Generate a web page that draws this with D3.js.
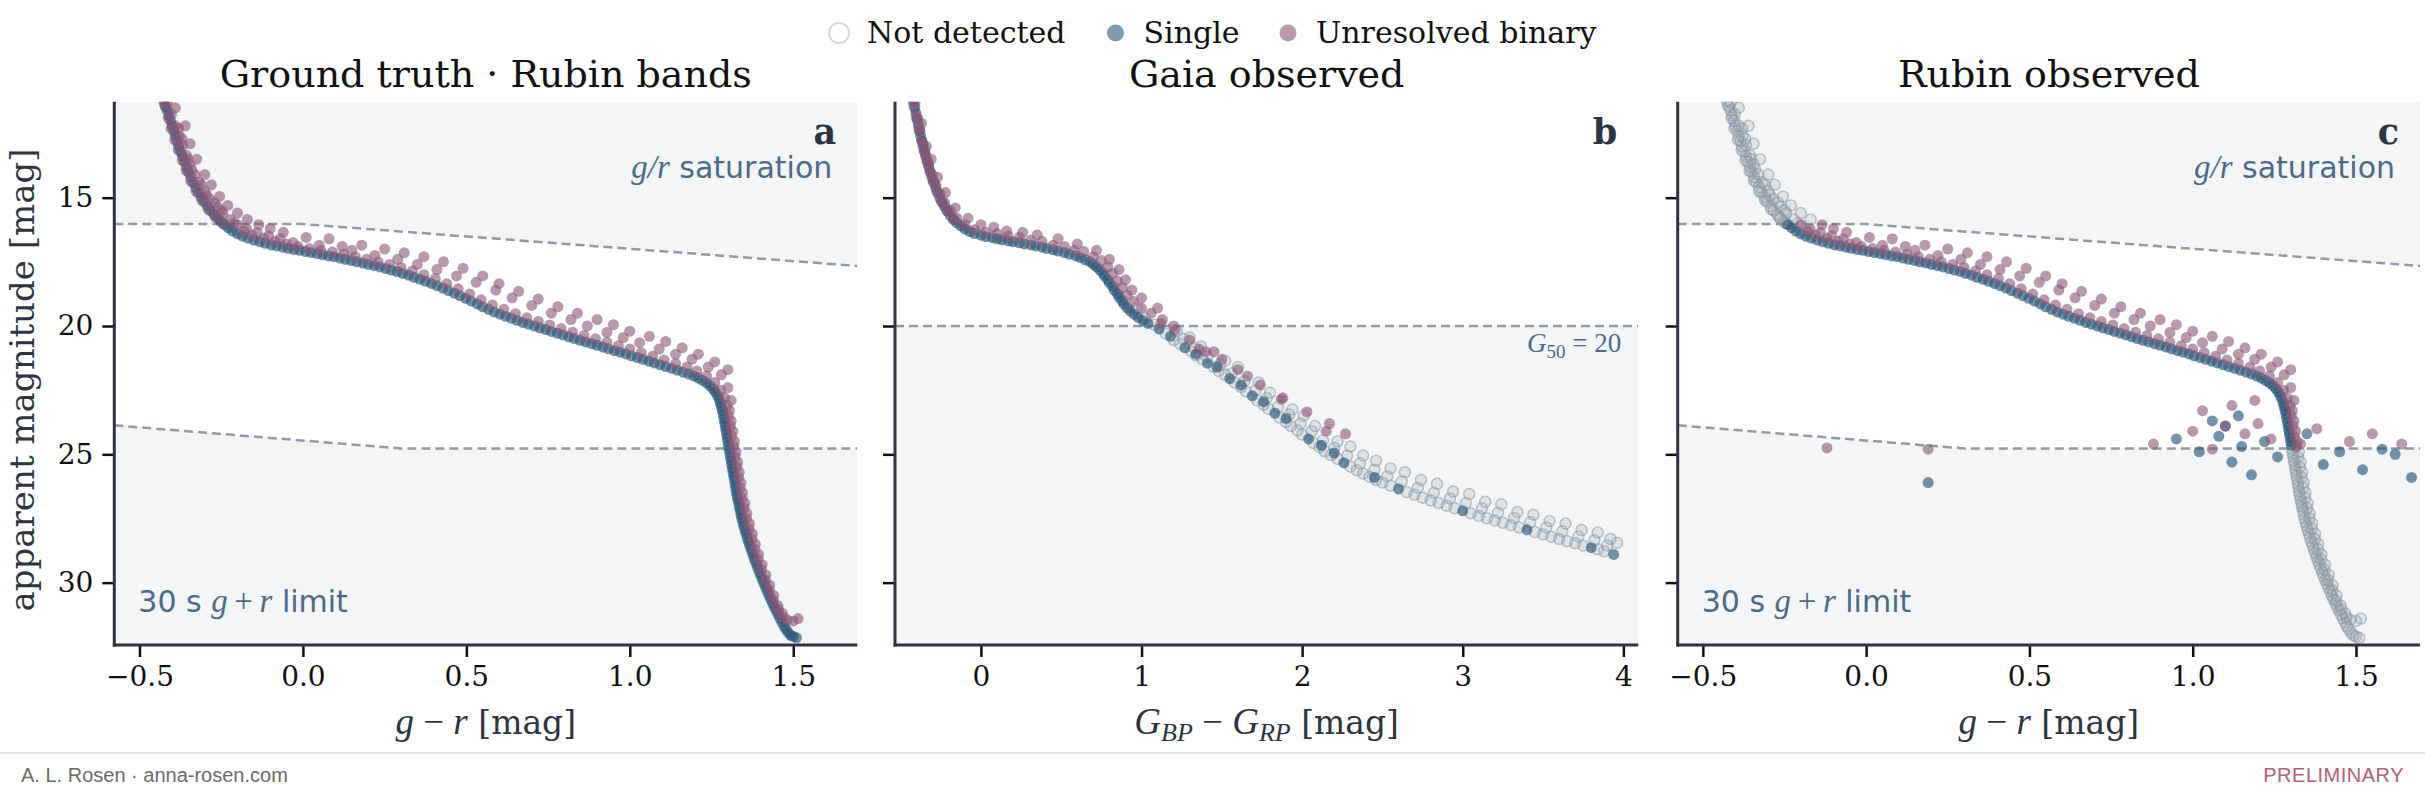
<!DOCTYPE html>
<html>
<head>
<meta charset="utf-8">
<title>CMD panels</title>
<style>
  body { margin: 0; background: #fff; }
</style>
</head>
<body>
<svg id="fig" width="2425" height="794" font-family="DejaVu Serif"></svg>
<script src="https://d3js.org/d3.v7.min.js"></script>
<script>
// ---- data ----
var panelTitles = ["Ground truth \u00b7 Rubin bands", "Gaia observed", "Rubin observed"];
var panelLetters = ["a", "b", "c"];
var legendLabels = ["Not detected", "Single", "Unresolved binary"];
var magTicks = [15, 20, 25, 30];
var grTicks = [-0.5, 0.0, 0.5, 1.0, 1.5];
var bpTicks = [0, 1, 2, 3, 4];

// saturation and depth limits (g-r, mag)
var satX = [-0.577, 0.0, 1.696], satY = [16.03, 16.03, 17.66];
var limX = [-0.577, 0.30, 1.696], limY = [23.87, 24.77, 24.77];
var gaiaG50 = 20;

// ground truth, Rubin g-r vs mag
var truthSingle = [[-0.425,11.25],[-0.42,11.45],[-0.415,11.6],[-0.41,11.8],[-0.405,12.0],[-0.4,12.2],[-0.395,12.4],[-0.39,12.6],[-0.385,12.8],[-0.38,13.0],[-0.374,13.2],[-0.368,13.4],[-0.362,13.6],[-0.356,13.8],[-0.35,14.0],[-0.343,14.2],[-0.336,14.4],[-0.328,14.6],[-0.32,14.8],[-0.311,14.98],[-0.302,15.15],[-0.292,15.33],[-0.283,15.5],[-0.272,15.65],[-0.262,15.8],[-0.251,15.93],[-0.24,16.05],[-0.228,16.18],[-0.215,16.3],[-0.2,16.41],[-0.185,16.5],[-0.168,16.58],[-0.15,16.65],[-0.132,16.72],[-0.115,16.78],[-0.097,16.84],[-0.08,16.88],[-0.062,16.93],[-0.045,16.97],[-0.027,17.02],[-0.01,17.05],[0.008,17.1],[0.025,17.14],[0.043,17.18],[0.06,17.22],[0.078,17.27],[0.095,17.3],[0.113,17.35],[0.13,17.4],[0.148,17.45],[0.165,17.5],[0.183,17.55],[0.2,17.6],[0.218,17.65],[0.235,17.7],[0.253,17.76],[0.27,17.82],[0.288,17.88],[0.305,17.95],[0.323,18.02],[0.34,18.1],[0.358,18.18],[0.375,18.26],[0.393,18.34],[0.41,18.43],[0.428,18.52],[0.445,18.62],[0.463,18.72],[0.48,18.82],[0.498,18.92],[0.515,19.03],[0.533,19.14],[0.55,19.25],[0.568,19.35],[0.585,19.45],[0.603,19.54],[0.62,19.62],[0.638,19.7],[0.655,19.78],[0.673,19.86],[0.69,19.93],[0.708,20.0],[0.725,20.07],[0.743,20.14],[0.76,20.21],[0.778,20.28],[0.795,20.35],[0.813,20.42],[0.83,20.49],[0.848,20.56],[0.865,20.62],[0.883,20.69],[0.9,20.75],[0.918,20.82],[0.935,20.89],[0.953,20.96],[0.97,21.02],[0.988,21.09],[1.005,21.16],[1.023,21.23],[1.04,21.3],[1.058,21.37],[1.075,21.44],[1.093,21.51],[1.11,21.58],[1.128,21.65],[1.145,21.72],[1.163,21.8],[1.18,21.87],[1.196,21.95],[1.21,22.03],[1.223,22.12],[1.235,22.22],[1.246,22.33],[1.255,22.45],[1.262,22.58],[1.268,22.7],[1.273,22.85],[1.277,23.0],[1.28,23.15],[1.283,23.3],[1.286,23.45],[1.288,23.6],[1.29,23.75],[1.292,23.9],[1.294,24.05],[1.296,24.2],[1.298,24.35],[1.3,24.5],[1.302,24.65],[1.304,24.8],[1.306,24.95],[1.308,25.1],[1.31,25.25],[1.312,25.4],[1.314,25.55],[1.316,25.7],[1.318,25.85],[1.32,26.0],[1.322,26.15],[1.324,26.3],[1.326,26.45],[1.328,26.6],[1.33,26.75],[1.333,26.9],[1.335,27.05],[1.338,27.2],[1.34,27.35],[1.343,27.5],[1.346,27.65],[1.349,27.8],[1.352,27.95],[1.356,28.1],[1.359,28.25],[1.363,28.4],[1.367,28.55],[1.371,28.7],[1.375,28.85],[1.379,29.0],[1.383,29.15],[1.388,29.3],[1.392,29.45],[1.397,29.6],[1.401,29.75],[1.406,29.9],[1.411,30.05],[1.416,30.2],[1.421,30.35],[1.426,30.5],[1.431,30.65],[1.437,30.8],[1.442,30.95],[1.448,31.1],[1.454,31.25],[1.46,31.4],[1.466,31.55],[1.472,31.7],[1.478,31.82],[1.485,31.95],[1.492,32.05],[1.5,32.1],[1.51,32.15]];
var truthBinary = [[-0.415,11.3],[-0.402,11.75],[-0.39,12.2],[-0.378,12.6],[-0.368,12.95],[-0.356,13.35],[-0.345,13.7],[-0.33,14.1],[-0.318,14.4],[-0.3,14.75],[-0.285,15.05],[-0.262,15.35],[-0.245,15.6],[-0.222,15.85],[-0.2,16.05],[-0.172,16.22],[-0.14,16.36],[-0.105,16.48],[-0.07,16.6],[-0.36,12.2],[-0.345,12.9],[-0.325,13.5],[-0.3,14.1],[-0.28,14.5],[-0.255,14.95],[-0.23,15.3],[-0.2,15.6],[-0.17,15.85],[-0.135,16.05],[-0.1,16.2],[-0.06,16.35],[-0.03,16.75],[0.01,16.55],[0.05,16.85],[0.08,16.6],[0.12,16.9],[0.15,17.05],[0.18,16.85],[0.22,17.25],[0.25,17.0],[0.29,17.4],[0.31,17.15],[0.35,17.6],[0.37,17.3],[0.41,17.8],[0.43,17.5],[0.47,18.05],[0.49,17.75],[0.53,18.3],[0.55,18.05],[0.59,18.6],[0.6,18.35],[0.64,18.9],[0.66,18.65],[0.7,19.2],[0.72,18.95],[0.76,19.5],[0.78,19.25],[0.82,19.75],[0.84,19.5],[0.87,20.0],[0.9,19.75],[0.93,20.25],[0.95,19.95],[0.98,20.45],[1.0,20.2],[1.03,20.65],[1.06,20.4],[1.09,20.9],[1.11,20.6],[1.14,21.1],[1.16,20.85],[1.19,21.3],[1.21,21.1],[1.24,21.6],[1.26,21.4],[1.28,21.9],[1.3,21.7],[1.3,22.4],[1.31,22.9],[1.305,23.3],[1.31,23.7],[1.315,24.1],[1.32,24.5],[1.325,24.9],[1.33,25.3],[1.335,25.7],[1.34,26.1],[1.345,26.5],[1.352,26.9],[1.358,27.3],[1.366,27.7],[1.375,28.1],[1.384,28.5],[1.394,28.9],[1.405,29.3],[1.416,29.7],[1.428,30.1],[1.44,30.5],[1.453,30.9],[1.467,31.2],[1.482,31.45],[1.5,31.5],[1.515,31.4],[-0.39,11.5],[-0.38,12.3],[-0.37,12.7],[-0.352,13.5],[-0.34,13.9],[-0.31,14.5],[-0.295,14.9],[-0.27,15.2],[-0.25,15.5],[-0.21,16.0],[-0.18,16.3],[-0.155,16.45],[-0.12,16.58],[-0.085,16.7],[-0.05,16.8],[-0.015,16.9],[0.02,16.98],[0.055,17.05],[0.09,17.12],[0.125,17.2],[0.16,17.3],[0.195,17.4],[0.23,17.5],[0.265,17.6],[0.3,17.72],[0.335,17.85],[0.37,18.0],[0.405,18.15],[0.44,18.35],[0.475,18.55],[0.51,18.75],[0.545,18.98],[0.58,19.18],[0.615,19.35],[0.65,19.52],[0.685,19.68],[0.72,19.82],[0.755,19.96],[0.79,20.1],[0.825,20.24],[0.86,20.37],[0.895,20.5],[0.93,20.63],[0.965,20.77],[1.0,20.9],[1.035,21.04],[1.07,21.18],[1.105,21.32],[1.14,21.46],[1.175,21.6],[1.205,21.75],[1.235,21.95],[1.26,22.2],[1.278,22.5],[1.29,22.8],[1.298,23.1],[1.302,23.5],[1.308,23.9],[1.312,24.3],[1.318,24.7],[1.322,25.1],[1.328,25.5],[1.333,25.9],[1.338,26.3],[1.344,26.7],[1.35,27.1],[1.357,27.5],[1.365,27.9],[1.374,28.3],[1.383,28.7],[1.393,29.1],[1.403,29.5],[1.415,29.9],[1.427,30.3],[1.44,30.7],[1.455,31.05],[1.47,31.35],[-0.423,11.4],[-0.412,11.9],[-0.403,12.3],[-0.392,12.75],[-0.381,13.15],[-0.369,13.55],[-0.357,13.95],[-0.343,14.35],[-0.327,14.75],[-0.309,15.1],[-0.29,15.45],[-0.268,15.75],[-0.245,16.0]];

// Gaia BP-RP vs G
var gaiaSingleDet = [[-0.42,11.25],[-0.412,11.5],[-0.405,11.7],[-0.398,11.95],[-0.39,12.15],[-0.383,12.4],[-0.375,12.6],[-0.367,12.8],[-0.36,13.0],[-0.351,13.2],[-0.343,13.4],[-0.334,13.6],[-0.325,13.8],[-0.315,14.0],[-0.305,14.2],[-0.294,14.4],[-0.282,14.6],[-0.27,14.8],[-0.256,15.0],[-0.241,15.18],[-0.226,15.35],[-0.208,15.53],[-0.19,15.7],[-0.17,15.85],[-0.15,15.98],[-0.125,16.1],[-0.1,16.22],[-0.07,16.32],[-0.04,16.4],[0.0,16.46],[0.03,16.52],[0.07,16.56],[0.1,16.6],[0.13,16.64],[0.17,16.68],[0.2,16.72],[0.24,16.76],[0.27,16.8],[0.31,16.84],[0.34,16.88],[0.38,16.93],[0.41,16.98],[0.45,17.03],[0.48,17.08],[0.52,17.14],[0.55,17.2],[0.59,17.27],[0.62,17.34],[0.65,17.42],[0.68,17.5],[0.7,17.6],[0.72,17.7],[0.74,17.82],[0.76,17.94],[0.77,18.06],[0.79,18.19],[0.8,18.32],[0.82,18.46],[0.83,18.6],[0.85,18.74],[0.86,18.88],[0.88,19.02],[0.89,19.15],[0.91,19.29],[0.93,19.42],[0.955,19.55],[0.98,19.67],[1.01,19.79],[1.04,19.9],[1.11,20.12],[1.18,20.4],[1.27,20.85],[1.34,21.1],[1.41,21.45],[1.47,21.6],[1.55,22.05],[1.62,22.3],[1.69,22.72],[1.76,22.95],[1.83,23.4],[1.9,23.6],[2.04,24.4],[2.12,24.65],[2.2,24.95],[2.26,25.33],[2.45,25.9],[2.6,26.35],[3.0,27.2],[3.4,27.94],[3.8,28.64],[3.94,28.9]];
var gaiaBinaryDet = [[-0.41,11.3],[-0.395,11.9],[-0.38,12.4],[-0.362,12.9],[-0.345,13.3],[-0.325,13.7],[-0.305,14.1],[-0.28,14.5],[-0.255,14.85],[-0.225,15.2],[-0.19,15.5],[-0.15,15.8],[-0.1,16.05],[-0.04,16.25],[0.03,16.35],[0.1,16.4],[0.17,16.5],[0.24,16.55],[0.31,16.65],[0.38,16.7],[0.45,16.85],[0.52,16.9],[0.58,17.05],[0.64,17.1],[0.7,17.3],[0.75,17.45],[0.79,17.7],[0.82,17.95],[0.85,18.25],[0.88,18.5],[0.91,18.8],[0.95,19.05],[1.0,19.3],[1.06,19.5],[1.13,19.75],[1.2,20.0],[-0.37,12.1],[-0.34,13.0],[-0.31,13.5],[-0.27,14.2],[-0.22,14.8],[-0.16,15.4],[-0.08,15.8],[0.0,16.05],[0.08,16.15],[0.16,16.3],[0.26,16.35],[0.35,16.45],[0.48,16.6],[0.6,16.8],[0.72,17.05],[0.8,17.4],[0.86,17.8],[0.9,18.2],[0.94,18.6],[1.0,18.9],[1.1,19.3],[1.12,19.9],[1.21,20.15],[1.3,20.55],[1.36,20.9],[1.4,21.0],[1.45,21.0],[1.5,21.3],[1.6,21.7],[1.66,21.95],[1.74,22.3],[1.87,22.85],[1.88,22.8],[2.03,23.35],[2.15,24.1],[2.17,23.8],[2.27,24.2],[-0.418,11.4],[-0.402,11.85],[-0.386,12.3],[-0.37,12.75],[-0.353,13.15],[-0.336,13.55],[-0.318,13.95],[-0.298,14.35],[-0.274,14.75],[-0.246,15.15],[-0.212,15.5],[-0.172,15.82]];
var gaiaMissed = [[1.2,20.55],[1.34,21.15],[1.48,21.75],[1.62,22.38],[1.76,23.06],[1.9,23.74],[1.97,24.07],[2.11,24.72],[2.18,25.03],[2.34,25.62],[2.42,25.88],[2.5,26.1],[2.7,26.58],[2.8,26.8],[2.9,27.0],[3.1,27.4],[3.2,27.58],[3.3,27.76],[3.5,28.12],[3.6,28.3],[3.7,28.47],[3.88,28.78],[1.22,20.2],[1.3,20.45],[1.37,20.8],[1.52,21.35],[1.6,21.6],[1.73,22.2],[1.8,22.6],[1.94,23.25],[2.01,23.5],[2.08,23.9],[2.22,24.5],[2.3,24.7],[2.38,25.05],[2.46,25.25],[2.55,25.55],[2.64,25.7],[2.74,26.0],[2.84,26.15],[2.94,26.45],[3.04,26.55],[3.14,26.85],[3.24,26.95],[3.34,27.25],[3.44,27.35],[3.54,27.6],[3.64,27.7],[3.74,27.95],[3.84,28.05],[3.92,28.3],[3.96,28.45],[1.26,20.5],[1.33,20.85],[1.41,21.2],[1.49,21.5],[1.56,21.85],[1.64,22.15],[1.71,22.5],[1.78,22.8],[1.85,23.15],[1.92,23.45],[1.99,23.8],[2.06,24.1],[2.13,24.45],[2.2,24.75],[2.28,25.05],[2.36,25.35],[2.45,25.6],[2.53,25.85],[2.62,26.05],[2.72,26.3],[2.82,26.5],[2.92,26.72],[3.02,26.9],[3.12,27.1],[3.22,27.28],[3.32,27.48],[3.42,27.65],[3.52,27.85],[3.62,28.0],[3.72,28.2],[3.82,28.35],[3.9,28.55],[1.24,20.7],[1.31,21.0],[1.38,21.3],[1.45,21.6],[1.52,21.9],[1.58,22.2],[1.65,22.55],[1.72,22.9],[1.79,23.23],[1.86,23.57],[1.93,23.9],[2.0,24.23],[2.07,24.56],[2.14,24.88],[2.22,25.18],[2.3,25.48],[2.38,25.75],[2.46,26.0],[2.55,26.22],[2.65,26.47],[2.75,26.69],[2.85,26.9],[2.95,27.1],[3.05,27.3],[3.15,27.49],[3.25,27.67],[3.35,27.85],[3.45,28.03],[3.55,28.21],[3.65,28.39],[3.75,28.56],[3.84,28.7],[0.97,19.3],[1.02,19.7],[1.08,19.95],[1.15,20.3]];

// Rubin observed: noisy detections near the depth limit
var obsScatterSingle = [[0.19,26.1],[0.95,24.4],[1.02,24.9],[1.08,24.3],[1.1,23.9],[1.12,25.3],[1.15,24.7],[1.18,25.8],[1.22,24.5],[1.26,25.1],[1.35,24.2],[1.4,25.4],[1.45,24.9],[1.52,25.6],[1.58,24.8],[1.62,25.0],[1.67,25.9],[1.06,23.7],[1.14,23.5]];
var obsScatterBinary = [[-0.12,24.75],[0.19,24.8],[0.88,24.6],[1.0,24.1],[1.06,24.8],[1.1,23.9],[1.16,24.2],[1.2,23.8],[1.24,24.4],[1.33,24.6],[1.38,24.0],[1.48,24.5],[1.55,24.2],[1.64,24.6],[1.03,23.3],[1.12,23.1],[1.19,22.9]];

// ---- layout ----
var svg = d3.select("#fig");
var plotTop = 101.7, plotBottom = 645;
var y = d3.scaleLinear().domain([11.26, 32.43]).range([plotTop, plotBottom]);
var xA = d3.scaleLinear().domain([-0.577, 1.696]).range([114.3, 857.3]);
var xB = d3.scaleLinear().domain([-0.535, 4.093]).range([895, 1638.3]);
var xC = d3.scaleLinear().domain([-0.577, 1.696]).range([1677.7, 2420]);

var colSingle = "#2b587a", colBinary = "#8b5577", colMiss = "#8d99a6";
var annoCol = "#4b6b89", shade = "#f3f5f7", ink = "#2c3540";
var dotR = 5.5;
var thin = "\u2009";

var satScale = d3.scaleLinear().domain(satX).range(satY);
var limScale = d3.scaleLinear().domain(limX).range(limY);
var satPts = d3.zip(satX, satY), limPts = d3.zip(limX, limY);

function drawPanel(i, x, xTicks, xFmt, showY) {
  var g = svg.append("g");
  var x0 = x.range()[0], x1 = x.range()[1];
  svg.append("clipPath").attr("id", "clip" + i).append("rect")
    .attr("x", x0).attr("y", plotTop).attr("width", x1 - x0).attr("height", plotBottom - plotTop);

  var inner = g.append("g").attr("clip-path", "url(#clip" + i + ")");

  var ax = g.append("g").attr("transform", "translate(0," + plotBottom + ")")
    .call(d3.axisBottom(x).tickValues(xTicks).tickFormat(xFmt).tickSize(12).tickPadding(9));
  var ay = g.append("g").attr("transform", "translate(" + x0 + ",0)")
    .call(d3.axisLeft(y).tickValues(magTicks).tickFormat(showY ? d3.format("d") : "").tickSize(12).tickPadding(9));
  [ax, ay].forEach(function (a) {
    a.select(".domain").remove();
    a.attr("font-size", 28).attr("font-family", "DejaVu Serif");
    a.selectAll("line").attr("stroke", "#111").attr("stroke-width", 2.5);
    a.selectAll("text").attr("fill", "#111");
  });

  g.append("text").attr("x", (x0 + x1) / 2).attr("y", 87).attr("text-anchor", "middle")
    .attr("font-size", 38).attr("fill", "#111").text(panelTitles[i]);

  return {g: g, inner: inner, x0: x0, x1: x1};
}

function dots(sel, data, x, cls, fill, op) {
  sel.selectAll("circle." + cls).data(data).join("circle").attr("class", cls)
    .attr("cx", function (d) { return x(d[0]); })
    .attr("cy", function (d) { return y(d[1]); })
    .attr("r", dotR).attr("fill", fill).attr("fill-opacity", op);
}

function missed(sel, data, x, cls) {
  sel.selectAll("circle." + cls).data(data).join("circle").attr("class", cls)
    .attr("cx", function (d) { return x(d[0]); })
    .attr("cy", function (d) { return y(d[1]); })
    .attr("r", dotR).attr("fill", colMiss).attr("fill-opacity", 0.2)
    .attr("stroke", colMiss).attr("stroke-opacity", 0.55).attr("stroke-width", 1.5);
}

function rubinLimits(p, x) {
  var areaTop = d3.area().x(function (d) { return x(d[0]); }).y0(plotTop).y1(function (d) { return y(d[1]); });
  var areaBot = d3.area().x(function (d) { return x(d[0]); }).y0(function (d) { return y(d[1]); }).y1(plotBottom);
  p.inner.append("path").datum(satPts).attr("d", areaTop).attr("fill", shade);
  p.inner.append("path").datum(limPts).attr("d", areaBot).attr("fill", shade);
}

function rubinLines(p, x) {
  var line = d3.line().x(function (d) { return x(d[0]); }).y(function (d) { return y(d[1]); });
  [satPts, limPts].forEach(function (pts) {
    p.inner.append("path").datum(pts).attr("d", line).attr("fill", "none")
      .attr("stroke", "#8e9aab").attr("stroke-width", 2.5).attr("stroke-dasharray", "9,5");
  });
}

function spines(p) {
  p.g.append("line").attr("x1", p.x0).attr("x2", p.x0).attr("y1", plotTop).attr("y2", plotBottom + 1.5)
    .attr("stroke", ink).attr("stroke-width", 3);
  p.g.append("line").attr("x1", p.x0 - 1.5).attr("x2", p.x1).attr("y1", plotBottom).attr("y2", plotBottom)
    .attr("stroke", ink).attr("stroke-width", 3);
}

function letter(p, i) {
  p.g.append("text").attr("x", p.x1 - 21).attr("y", 144).attr("text-anchor", "end")
    .attr("font-size", 35).attr("font-weight", "bold").attr("fill", ink).text(panelLetters[i]);
}

function mathItalic(t, s, size) {
  return t.append("tspan").attr("font-family", "Liberation Serif").attr("font-style", "italic").attr("font-size", size).text(s);
}

function satLabel(p) {
  var t = p.g.append("text").attr("x", p.x1 - 25).attr("y", 178).attr("text-anchor", "end")
    .attr("fill", annoCol).attr("font-size", 30);
  mathItalic(t, "g/r", 33);
  t.append("tspan").attr("font-family", "DejaVu Sans").text(" saturation");
}

function limLabel(p) {
  var t = p.g.append("text").attr("x", p.x0 + 24).attr("y", 612).attr("fill", annoCol).attr("font-size", 30);
  t.append("tspan").attr("font-family", "DejaVu Sans").text("30 s ");
  mathItalic(t, "g", 33);
  t.append("tspan").attr("font-family", "Liberation Serif").attr("font-size", 33).text(thin + "+" + thin);
  mathItalic(t, "r", 33);
  t.append("tspan").attr("font-family", "DejaVu Sans").text(" limit");
}

function grLabel(p) {
  var t = p.g.append("text").attr("x", (p.x0 + p.x1) / 2).attr("y", 734).attr("text-anchor", "middle")
    .attr("font-size", 33).attr("fill", ink);
  mathItalic(t, "g", 37);
  t.append("tspan").attr("font-family", "Liberation Serif").attr("font-size", 37).text(" \u2212 ");
  mathItalic(t, "r", 37);
  t.append("tspan").text(" [mag]");
}

// panel a
var pa = drawPanel(0, xA, grTicks, d3.format(".1f"), true);
rubinLimits(pa, xA);
rubinLines(pa, xA);
dots(pa.inner, truthSingle, xA, "s", colSingle, 0.65);
dots(pa.inner, truthBinary, xA, "b", colBinary, 0.6);
spines(pa); letter(pa, 0); satLabel(pa); limLabel(pa); grLabel(pa);

// panel b
var pb = drawPanel(1, xB, bpTicks, d3.format("d"), false);
var g50Pts = [[-0.535, gaiaG50], [4.093, gaiaG50]];
pb.inner.append("path").datum(g50Pts)
  .attr("d", d3.area().x(function (d) { return xB(d[0]); }).y0(function (d) { return y(d[1]); }).y1(plotBottom))
  .attr("fill", shade);
pb.inner.append("path").datum(g50Pts)
  .attr("d", d3.line().x(function (d) { return xB(d[0]); }).y(function (d) { return y(d[1]); }))
  .attr("stroke", "#8e9aab").attr("stroke-width", 2.5).attr("stroke-dasharray", "9,5").attr("fill", "none");
missed(pb.inner, gaiaMissed, xB, "m");
dots(pb.inner, gaiaSingleDet, xB, "s", colSingle, 0.65);
dots(pb.inner, gaiaBinaryDet, xB, "b", colBinary, 0.6);
spines(pb); letter(pb, 1);
var g50 = pb.g.append("text").attr("x", pb.x1 - 17).attr("y", 352).attr("text-anchor", "end")
  .attr("fill", annoCol).attr("font-size", 27).attr("font-family", "Liberation Serif");
g50.append("tspan").attr("font-style", "italic").text("G");
g50.append("tspan").attr("font-size", 19).attr("dy", 6).text("50");
g50.append("tspan").attr("dy", -6).text(" = 20");
var xlB = pb.g.append("text").attr("x", (pb.x0 + pb.x1) / 2).attr("y", 734).attr("text-anchor", "middle")
  .attr("font-size", 33).attr("fill", ink);
mathItalic(xlB, "G", 37);
mathItalic(xlB, "BP", 26).attr("dy", 7);
xlB.append("tspan").attr("font-family", "Liberation Serif").attr("font-size", 37).attr("dy", -7).text(" \u2212 ");
mathItalic(xlB, "G", 37);
mathItalic(xlB, "RP", 26).attr("dy", 7);
xlB.append("tspan").attr("dy", -7).text(" [mag]");

// panel c: same stars as a, split by the saturation and depth limits
function isDet(d) { return d[1] >= satScale(d[0]) && d[1] <= limScale(d[0]); }
var pc = drawPanel(2, xC, grTicks, d3.format(".1f"), false);
rubinLimits(pc, xC);
rubinLines(pc, xC);
missed(pc.inner, truthSingle.filter(function (d) { return !isDet(d); }), xC, "ms");
missed(pc.inner, truthBinary.filter(function (d) { return !isDet(d); }), xC, "mb");
dots(pc.inner, truthSingle.filter(isDet), xC, "s", colSingle, 0.65);
dots(pc.inner, obsScatterSingle, xC, "ss", colSingle, 0.65);
dots(pc.inner, truthBinary.filter(isDet), xC, "b", colBinary, 0.6);
dots(pc.inner, obsScatterBinary, xC, "sb", colBinary, 0.6);
spines(pc); letter(pc, 2); satLabel(pc); limLabel(pc); grLabel(pc);

// y label
svg.append("text").attr("transform", "translate(34,380) rotate(-90)")
  .attr("text-anchor", "middle").attr("font-size", 34).attr("fill", ink).text("apparent magnitude [mag]");

// legend
var legX = [839, 1115.5, 1288];
var leg = svg.append("g");
legendLabels.forEach(function (lab, i) {
  var c = leg.append("circle").attr("cx", legX[i]).attr("cy", 33).attr("r", i === 0 ? 10 : 8.5);
  if (i === 0) c.attr("fill", "none").attr("stroke", "#d3d8dd").attr("stroke-width", 1.8);
  else c.attr("fill", i === 1 ? colSingle : colBinary).attr("fill-opacity", 0.6);
  leg.append("text").attr("x", legX[i] + 28).attr("y", 43).attr("font-size", 30).attr("fill", "#111").text(lab);
});

// footer
svg.append("line").attr("x1", 0).attr("x2", 2425).attr("y1", 753).attr("y2", 753)
  .attr("stroke", "#d9d9d9").attr("stroke-width", 1.5);
svg.append("text").attr("x", 21).attr("y", 782).attr("font-family", "Liberation Sans").attr("font-size", 20)
  .attr("fill", "#6b6b6b").text("A. L. Rosen \u00b7 anna-rosen.com");
svg.append("text").attr("x", 2404).attr("y", 782).attr("text-anchor", "end").attr("font-family", "Liberation Sans")
  .attr("font-size", 20).attr("letter-spacing", 0.5).attr("fill", "#b4607c").text("PRELIMINARY");
</script>
</body>
</html>
